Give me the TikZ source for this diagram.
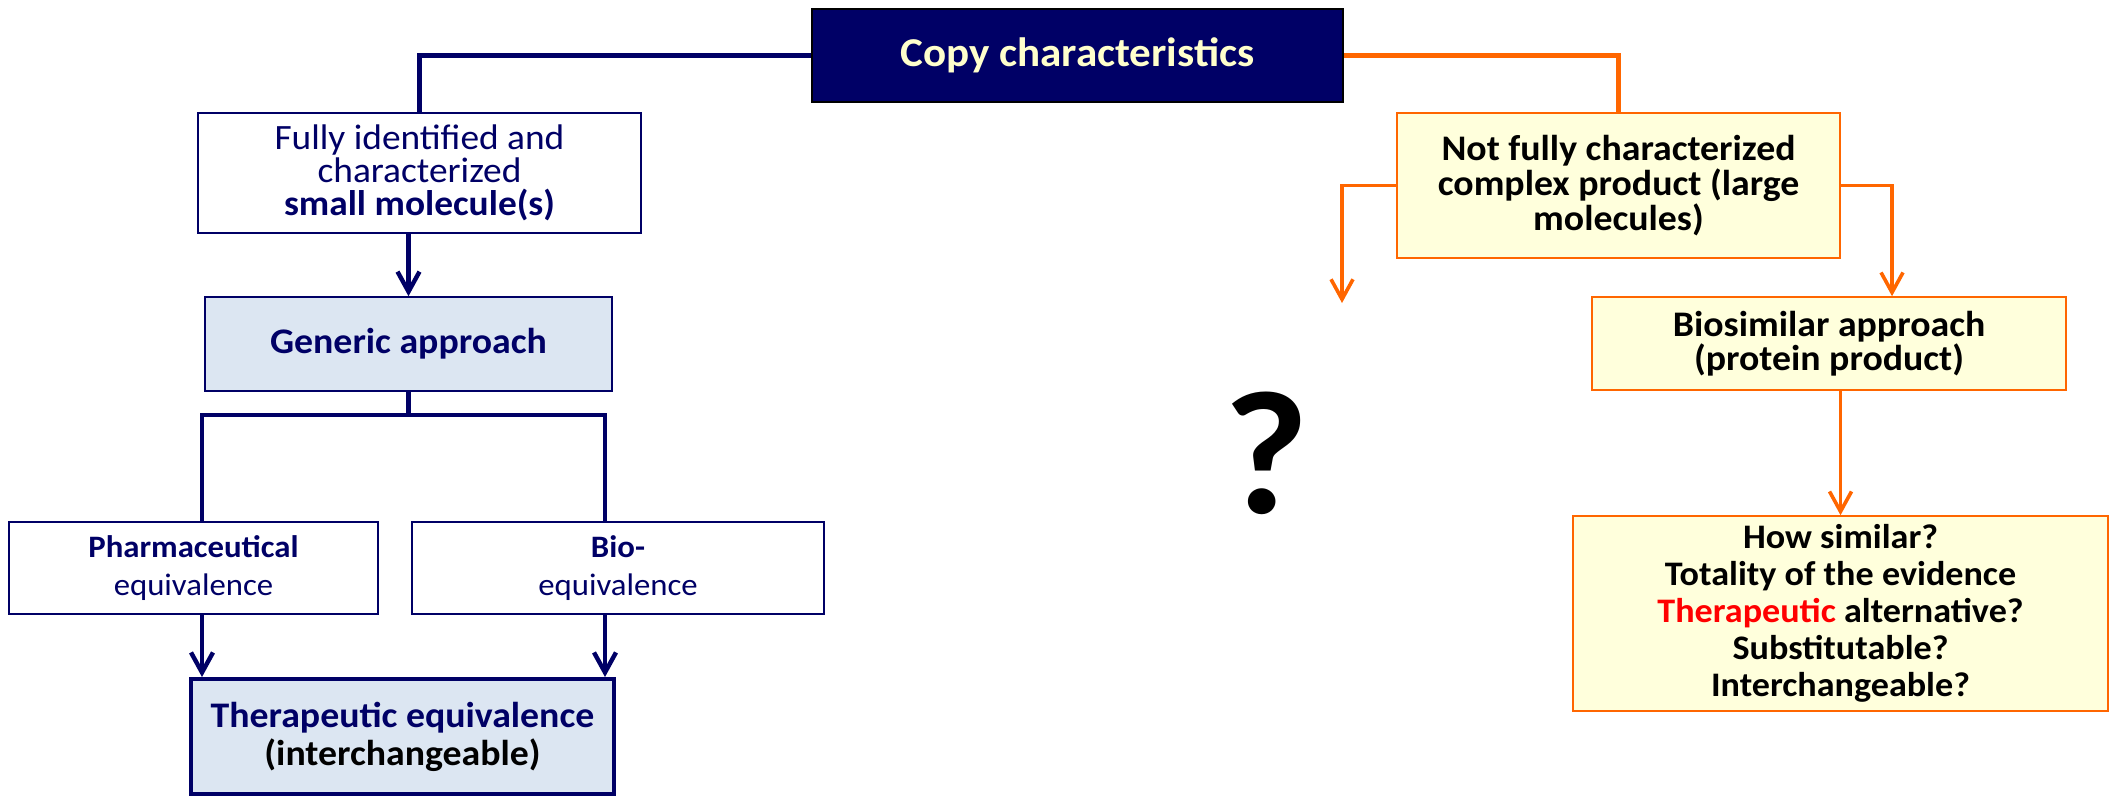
\documentclass[tikz,border=0pt]{standalone}
\usepackage{fontspec}
\setmainfont[FakeStretch=1.05]{Carlito}
\usetikzlibrary{arrows.meta}
\definecolor{navy}{RGB}{0,0,102}
\definecolor{paleblue}{RGB}{220,230,242}
\definecolor{paleyellow}{RGB}{255,255,220}
\definecolor{darkorange}{RGB}{255,102,0}
\definecolor{cream}{RGB}{255,255,204}
\tikzstyle{topbox} = [draw=black, fill=navy, line width=1.2pt, rectangle,
    text=cream, font=\bfseries\fontsize{20.5}{24}\selectfont]
\tikzstyle{whitebox} = [draw=navy, fill=white, line width=0.8pt, rectangle,
    align=center, text=navy]
\tikzstyle{bluebox} = [draw=navy, fill=paleblue, line width=0.8pt, rectangle,
    align=center, text=navy, font=\bfseries\fontsize{18}{20}\selectfont]
\tikzstyle{yellowbox} = [draw=darkorange, fill=paleyellow, line width=0.8pt, rectangle,
    align=center, text=black, font=\bfseries\fontsize{18}{16}\selectfont]
\tikzstyle{navyline} = [draw=navy, line width=2.2pt]
\tikzstyle{navyarrow} = [navyline, -{Straight Barb[length=10pt,width=11pt]}]
\tikzstyle{orangeline} = [draw=darkorange, line width=2.2pt]
\tikzstyle{orangearrow} = [draw=darkorange, line width=1.8pt, -{Straight Barb[length=10pt,width=11pt]}]

\begin{document}
\begin{tikzpicture}[x=0.5pt, y=-0.5pt]
\useasboundingbox (0,0) rectangle (2112,799);
% left branch
\node [topbox, minimum width=265.5pt, minimum height=46.5pt] (copy) at (1077.5,55.5) {Copy characteristics};
\node [whitebox, minimum width=221.5pt, minimum height=60pt, font=\fontsize{17.8}{16.5}\selectfont] (fully) at (419.5,173)
    {Fully identified and\\characterized\\\textbf{small molecule(s)}};
\node [bluebox, minimum width=203.5pt, minimum height=47pt] (generic) at (408.5,344) {Generic approach};
\node [whitebox, minimum width=184.5pt, minimum height=46pt, font=\fontsize{15.6}{19}\selectfont] (pharma) at (193.5,568)
    {\textbf{Pharmaceutical}\\equivalence};
\node [whitebox, minimum width=206pt, minimum height=46pt, font=\fontsize{15.6}{19}\selectfont] (bio) at (618,568)
    {\textbf{Bio-}\\equivalence};
\node [bluebox, line width=2pt, minimum width=211.5pt, minimum height=57.5pt, font=\bfseries\fontsize{18}{19}\selectfont] (thera) at (402.5,736.5)
    {Therapeutic equivalence\\\textcolor{black}{(interchangeable)}};
% right branch
\node [yellowbox, minimum width=221.5pt, minimum height=72.5pt] (notfully) at (1618.5,185.5)
    {Not fully characterized\\complex product (large\\molecules)};
\node [yellowbox, minimum width=237pt, minimum height=46.5pt] (biosim) at (1829,343.5)
    {Biosimilar approach\\(protein product)};
\node [yellowbox, minimum width=267.5pt, minimum height=97.5pt, font=\bfseries\fontsize{17.2}{18.5}\selectfont] (howsim) at (1840.5,613.5)
    {How similar?\\Totality of the evidence\\\textcolor{red}{Therapeutic} alternative?\\Substitutable?\\Interchangeable?};
\node [font=\bfseries\fontsize{88}{88}\selectfont] (qmark) at (1266,453) {?};

\coordinate (lbar) at (202,415);
\coordinate (rbar) at (605,415);
\coordinate (qtip) at (1342,303);

\draw [navyline] (copy.west) -| (fully.north);
\draw [navyarrow] (generic.north |- fully.south) -- (generic.north);
\draw [navyline] (generic.south) -- (generic.south |- lbar);
\draw [navyline] (lbar |- pharma.north) -- (lbar) -- (rbar) -- (rbar |- bio.north);
\draw [navyarrow] (lbar |- pharma.south) -- (lbar |- thera.north);
\draw [navyarrow] (rbar |- bio.south) -- (rbar |- thera.north);

\draw [orangeline] (copy.east) -| (notfully.north);
\draw [orangearrow] (notfully.west) -| (qtip);
\draw [orangearrow] (notfully.east) -| ([xshift=31.5pt]biosim.north);
\draw [orangearrow] (howsim.north |- biosim.south) -- (howsim.north);
\end{tikzpicture}
\end{document}
